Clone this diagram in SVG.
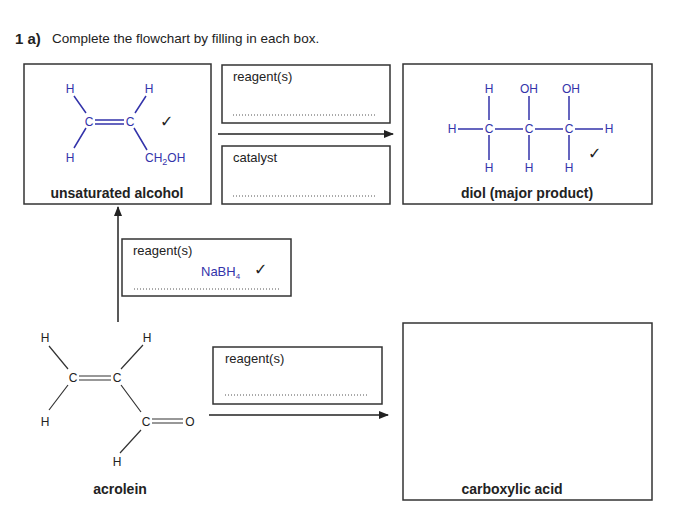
<svg xmlns="http://www.w3.org/2000/svg" width="695" height="521" viewBox="0 0 695 521">
<defs>
<marker id="ah" markerWidth="10" markerHeight="8" refX="9" refY="4" orient="auto" markerUnits="userSpaceOnUse"><path d="M0,0 L10,4 L0,8 z" fill="#222"/></marker>
<style>
text{font-family:"Liberation Sans",Arial,sans-serif;font-size:13px;fill:#222}
.box{fill:#fff;stroke:#333;stroke-width:1.5}
.b{fill:#3333aa;font-size:12px}
.k{font-size:12px}
.ck{font-size:16px;font-family:"DejaVu Sans",sans-serif}
.lb{stroke:#3333aa;stroke-width:1.5;fill:none}
.lk{stroke:#333;stroke-width:1.2;fill:none}
.dot{stroke:#555;stroke-width:1;stroke-dasharray:1 2}
.bold{font-weight:bold;font-size:14px}
.c{text-anchor:middle}
</style>
</defs>
<rect width="695" height="521" fill="#fff"/>
<text x="15" y="44" style="font-family:'Liberation Sans',sans-serif;font-weight:bold;font-size:15px">1 a)</text>
<text x="52" y="43" style="font-size:13.5px">Complete the flowchart by filling in each box.</text>

<g id="connectors">
<line x1="218" y1="134" x2="393" y2="134" stroke="#222" stroke-width="1.5" marker-end="url(#ah)"/>
<line x1="118" y1="322" x2="118" y2="207" stroke="#222" stroke-width="1.5" marker-end="url(#ah)"/>
<line x1="209" y1="415" x2="388" y2="415" stroke="#222" stroke-width="1.5" marker-end="url(#ah)"/>
</g>

<g id="unsaturated-alcohol">
<rect class="box" x="24" y="64" width="187" height="140"/>
<text class="b c" x="70" y="93">H</text><text class="b c" x="149" y="93">H</text>
<text class="b c" x="89" y="126">C</text><text class="b c" x="130" y="126">C</text>
<text class="b c" x="70" y="162">H</text><text class="b" x="145" y="162">CH<tspan font-size="9" dy="3">2</tspan><tspan dy="-3">OH</tspan></text>
<path class="lb" d="M74,96 L86,113 M95,120 L124,120 M95,124 L124,124 M135,113 L146,96 M86,128 L74,148 M134,128 L147,150"/>
<text class="ck" x="160" y="127">✓</text>
<text class="bold c" x="117" y="198">unsaturated alcohol</text>
</g>

<g id="reagent-box-1">
<rect class="box" x="222" y="65" width="168" height="58"/>
<text x="233" y="81">reagent(s)</text>
<line class="dot" x1="233" y1="115" x2="377" y2="115"/>
</g>
<g id="catalyst-box">
<rect class="box" x="222" y="146" width="168" height="58"/>
<text x="233" y="162">catalyst</text>
<line class="dot" x1="233" y1="196" x2="377" y2="196"/>
</g>

<g id="diol">
<rect class="box" x="403" y="64" width="249" height="140"/>
<text class="b c" x="489" y="93">H</text><text class="b c" x="529" y="93">OH</text><text class="b c" x="571" y="93">OH</text>
<text class="b c" x="452" y="133">H</text><text class="b c" x="489" y="133">C</text><text class="b c" x="529" y="133">C</text><text class="b c" x="569" y="133">C</text><text class="b c" x="609" y="133">H</text>
<text class="b c" x="489" y="172">H</text><text class="b c" x="529" y="172">H</text><text class="b c" x="569" y="172">H</text>
<path class="lb" d="M458,129 L483,129 M495,129 L523,129 M535,129 L563,129 M575,129 L603,129 M489,96 L489,120 M529,96 L529,120 M569,96 L569,120 M489,135 L489,160 M529,135 L529,160 M569,135 L569,160"/>
<text class="ck" x="588" y="159">✓</text>
<text class="bold c" x="527" y="198">diol (major product)</text>
</g>

<g id="nabh4-box">
<rect class="box" x="122" y="239" width="169" height="57"/>
<text x="133" y="255">reagent(s)</text>
<text class="b" x="201" y="276" style="font-size:13px">NaBH<tspan font-size="8" dy="3">4</tspan></text>
<text class="ck" x="254" y="275">✓</text>
<line class="dot" x1="134" y1="289" x2="279" y2="289"/>
</g>

<g id="acrolein">
<text class="k c" x="45" y="342">H</text><text class="k c" x="147" y="342">H</text>
<text class="k c" x="73" y="382">C</text><text class="k c" x="117" y="382">C</text>
<text class="k c" x="45" y="426">H</text><text class="k c" x="146" y="426">C</text><text class="k c" x="190" y="426">O</text>
<text class="k c" x="117" y="466">H</text>
<path class="lk" d="M49,346 L68,369 M79,376 L111,376 M79,380 L111,380 M121,369 L143,345 M68,385 L49,410 M121,385 L141,412 M152,419 L183,419 M152,423 L183,423 M141,430 L120,453"/>
<text class="bold c" x="120" y="494">acrolein</text>
</g>

<g id="reagent-box-2">
<rect class="box" x="213" y="347" width="169" height="57"/>
<text x="225" y="363">reagent(s)</text>
<line class="dot" x1="225" y1="395" x2="369" y2="395"/>
</g>

<g id="carboxylic-acid">
<rect class="box" x="403" y="323" width="249" height="177"/>
<text class="bold c" x="512" y="494">carboxylic acid</text>
</g>
</svg>
